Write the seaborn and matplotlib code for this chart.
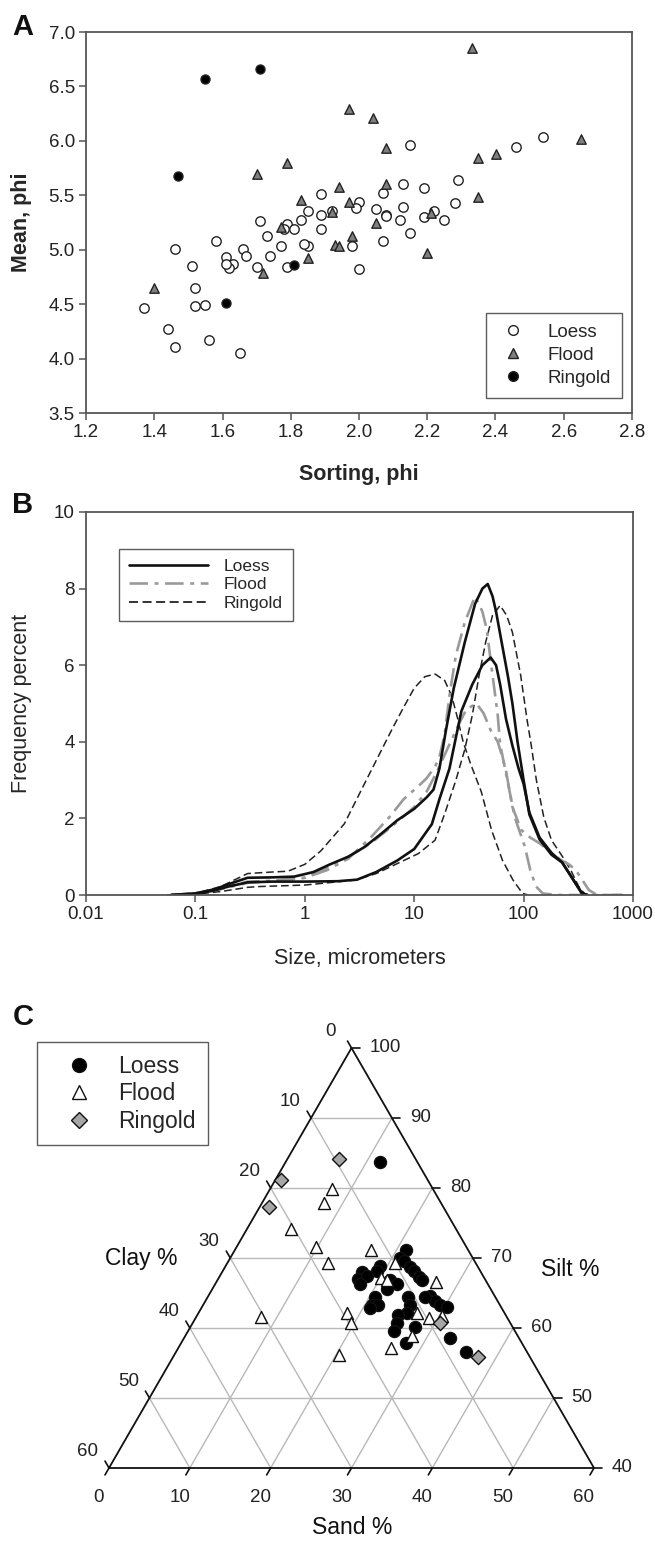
import numpy as np
import pandas as pd
import matplotlib
matplotlib.use("Agg")
import matplotlib.pyplot as plt
from matplotlib.lines import Line2D
import seaborn as sns

sns.set_style("ticks")
plt.rcParams["font.family"] = ["Liberation Sans", "DejaVu Sans"]

groups = ["Loess", "Flood", "Ringold"]

# ---- Panel A: sorting vs mean (phi)
loess_sorting = [2.15, 2.54, 2.46, 2.29, 2.13, 2.19, 1.89, 2.07, 2.28, 2.00, 1.99, 2.13, 2.05, 1.85,
                 1.92, 1.89, 2.08, 2.22, 2.19, 2.12, 2.25, 1.71, 1.83, 1.79, 1.78, 1.81, 1.89, 1.73,
                 2.15, 2.07, 1.58, 1.85, 1.84, 1.77, 1.98, 1.46, 1.66, 1.61, 1.67, 1.74, 1.63, 1.62,
                 1.70, 1.79, 2.00, 1.51, 1.52, 1.52, 1.55, 1.37, 1.44, 1.56, 1.46, 1.65, 2.08, 1.61]
loess_mean = [5.96, 6.04, 5.94, 5.64, 5.60, 5.57, 5.51, 5.52, 5.43, 5.44, 5.38, 5.39, 5.37, 5.36,
              5.36, 5.32, 5.32, 5.36, 5.30, 5.27, 5.27, 5.26, 5.27, 5.24, 5.19, 5.19, 5.19, 5.13,
              5.15, 5.08, 5.08, 5.03, 5.05, 5.03, 5.03, 5.01, 5.01, 4.93, 4.94, 4.94, 4.87, 4.83,
              4.84, 4.84, 4.82, 4.85, 4.65, 4.48, 4.49, 4.46, 4.27, 4.17, 4.11, 4.05, 5.31, 4.87]
flood_sorting = [2.33, 1.97, 2.04, 2.08, 2.35, 2.40, 2.65, 1.79, 1.70, 1.94, 2.08, 2.35, 1.83,
                 1.97, 1.92, 2.05, 1.77, 1.98, 1.93, 1.94, 2.20, 1.85, 1.72, 1.40, 2.21]
flood_mean = [6.85, 6.29, 6.21, 5.93, 5.84, 5.88, 6.02, 5.80, 5.70, 5.58, 5.60, 5.48, 5.46,
              5.44, 5.35, 5.25, 5.21, 5.13, 5.04, 5.03, 4.97, 4.92, 4.79, 4.65, 5.34]
ringold_sorting = [1.55, 1.71, 1.47, 1.81, 1.61]
ringold_mean = [6.57, 6.66, 5.68, 4.86, 4.51]

# ---- Panel B: grain size distributions (size in micrometers, frequency %)
loess1_size = [0.06, 0.1, 0.15, 0.2, 0.3, 0.5, 0.8, 1.2, 1.7, 2.5, 3.5, 5, 7, 10, 13, 15, 17, 19.5,
               23, 29, 36, 42, 47, 52, 56, 63, 72, 79, 88, 100, 113, 140, 180, 225, 270, 340, 380]
loess1_freq = [0, 0.04, 0.15, 0.28, 0.45, 0.46, 0.48, 0.6, 0.8, 1.0, 1.25, 1.6, 1.95, 2.25, 2.55, 2.75,
               3.3, 4.3, 5.4, 6.6, 7.6, 8.0, 8.12, 7.8, 7.4, 6.6, 5.7, 5.0, 4.0, 3.0, 2.1, 1.45, 1.05,
               0.85, 0.5, 0.05, 0]
loess2_size = [0.06, 0.1, 0.15, 0.2, 0.3, 0.5, 1, 2, 3, 4.5, 7, 10, 14.5, 17, 21, 24, 27, 34, 42, 50,
               56, 61, 69, 79, 90, 100, 113, 140, 180, 225, 270, 340, 380]
loess2_freq = [0, 0.03, 0.12, 0.22, 0.33, 0.35, 0.35, 0.36, 0.4, 0.6, 0.9, 1.2, 1.85, 2.5, 3.3, 4.1,
               4.8, 5.5, 6.0, 6.2, 6.0, 5.5, 4.6, 3.9, 3.3, 2.9, 2.15, 1.5, 1.1, 0.85, 0.5, 0.05, 0]
flood1_size = [0.06, 0.1, 0.15, 0.2, 0.3, 0.5, 1, 1.6, 2.5, 4, 6, 8, 11, 13, 15.5, 17, 19, 21, 24, 29,
               36, 42, 46, 52, 58, 61, 71, 83, 103, 115, 130, 150, 200, 800]
flood1_freq = [0, 0.05, 0.13, 0.22, 0.35, 0.37, 0.45, 0.65, 0.95, 1.5, 2.05, 2.5, 2.85, 3.05, 3.35,
               3.6, 4.2, 5.2, 6.25, 7.12, 7.8, 7.4, 6.94, 5.74, 4.7, 3.94, 3.0, 2.03, 1.25, 0.65,
               0.22, 0.04, 0, 0]
flood2_size = [0.06, 0.1, 0.15, 0.2, 0.3, 0.5, 1, 1.6, 2.5, 4, 6, 8, 10, 13, 16, 20, 25, 30, 37, 43,
               50, 58, 64, 69, 79, 95, 115, 140, 180, 220, 260, 300, 395, 470, 800]
flood2_freq = [0, 0.04, 0.12, 0.2, 0.32, 0.36, 0.45, 0.72, 1.0, 1.35, 1.75, 2.05, 2.3, 2.7, 3.2, 3.8,
               4.4, 4.85, 5.0, 4.75, 4.3, 4.0, 3.6, 3.25, 2.3, 1.7, 1.5, 1.35, 1.1, 0.91, 0.8, 0.65,
               0.13, 0, 0]
ringold1_size = [0.055, 0.1, 0.17, 0.25, 0.3, 0.5, 0.7, 1.0, 1.4, 2.3, 3.8, 6.2, 8, 10, 12.5, 15.5,
                 19, 22, 25, 28, 33, 41, 51, 64, 80, 98, 110]
ringold1_freq = [0, 0.04, 0.22, 0.45, 0.56, 0.6, 0.62, 0.8, 1.15, 1.86, 3.1, 4.3, 4.9, 5.4, 5.7,
                 5.77, 5.6, 5.2, 4.6, 4.0, 3.4, 2.7, 1.69, 0.91, 0.39, 0.04, 0]
ringold2_size = [0.055, 0.1, 0.17, 0.3, 0.38, 1, 2.9, 4.5, 7, 10.9, 15.5, 19, 24, 29, 34, 39, 45, 52,
                 61, 70, 79, 94, 108, 117, 131, 153, 180, 227, 270, 319, 360, 400]
ringold2_freq = [0, 0.02, 0.09, 0.2, 0.22, 0.26, 0.39, 0.56, 0.82, 1.08, 1.43, 2.12, 2.99, 3.8, 4.7,
                 5.7, 6.6, 7.3, 7.56, 7.3, 6.86, 5.74, 4.54, 3.94, 2.99, 2.03, 1.43, 1.0, 0.65, 0.22,
                 0.04, 0]

# ---- Panel C: texture (sand %, clay %; silt is the remainder)
loess_sand = [11.7, 21.2, 21.0, 21.7, 22.9, 23.7, 24.7, 25.3, 19.1, 19.1, 17.3, 17.3, 18.2, 17.9,
              21.3, 22.5, 21.6, 20.7, 20.9, 21.6, 24.8, 25.6, 25.8, 27.5, 28.4, 29.3, 30.3, 24.8,
              25.3, 25.5, 27.8, 27.8, 32.9, 35.9, 20.8, 26.9]
loess_clay = [4.6, 7.7, 9.0, 8.8, 8.4, 8.2, 8.0, 7.9, 12.1, 12.8, 14.7, 15.7, 14.4, 15.8,
              11.8, 11.2, 12.9, 14.9, 15.8, 15.1, 10.8, 11.1, 12.0, 8.0, 7.8, 7.4, 6.7, 13.3,
              14.0, 15.0, 14.3, 12.1, 8.5, 7.5, 16.3, 8.7]
flood_sand = [7.7, 7.7, 5.4, 9.9, 16.9, 12.5, 8.0, 18.4, 19.6, 20.4, 26.3, 28.0, 27.0, 28.9, 30.3,
              27.2, 20.0, 20.9, 20.7]
flood_clay = [12.5, 14.4, 20.4, 18.6, 12.0, 18.2, 30.4, 19.4, 19.7, 23.5, 16.6, 13.1, 10.8, 9.7, 8.0,
              6.3, 12.8, 12.2, 10.0]
ringold_sand = [6.3, 0.7, 1.2, 30.6, 37.7]
ringold_clay = [9.5, 18.2, 21.5, 8.7, 6.4]

tick_fs = 13.5
label_fs = 15.5
W, H = 655, 1541
fig = plt.figure(figsize=(W / 100, H / 100), dpi=100)


def px_axes(left, top, right, bottom):
    return fig.add_axes([left / W, 1 - bottom / H, (right - left) / W, (bottom - top) / H])


def style_box(ax):
    for sp in ax.spines.values():
        sp.set_visible(True)
        sp.set_color("#555555")
        sp.set_linewidth(1.3)
    ax.tick_params(direction="out", length=5, width=1.1, color="#555555",
                   labelsize=tick_fs, labelcolor="#222222", pad=3)


# ================= Panel A =================
ax_a = px_axes(86, 32, 632, 413)
df_a = pd.DataFrame({
    "sorting": loess_sorting + flood_sorting + ringold_sorting,
    "mean": loess_mean + flood_mean + ringold_mean,
    "group": ["Loess"] * len(loess_sorting) + ["Flood"] * len(flood_sorting)
             + ["Ringold"] * len(ringold_sorting),
})
pal_a = {"Loess": "white", "Flood": "#7f7f7f", "Ringold": "black"}
mk_a = {"Loess": "o", "Flood": "^", "Ringold": "o"}
size_a = {"Loess": 46, "Flood": 46, "Ringold": 42}
for g in groups:
    sub = df_a[df_a["group"] == g]
    sns.scatterplot(data=sub, x="sorting", y="mean", color=pal_a[g], marker=mk_a[g],
                    s=size_a[g], edgecolor="#222222", linewidth=1.0, ax=ax_a, legend=False,
                    zorder=3)
ax_a.set_xlim(1.2, 2.8)
ax_a.set_ylim(3.5, 7.0)
ax_a.set_xticks(np.arange(1.2, 2.81, 0.2))
ax_a.set_yticks(np.arange(3.5, 7.01, 0.5))
ax_a.xaxis.set_major_formatter(matplotlib.ticker.FormatStrFormatter("%.1f"))
ax_a.yaxis.set_major_formatter(matplotlib.ticker.FormatStrFormatter("%.1f"))
style_box(ax_a)
ax_a.set_xlabel("Sorting, phi", fontsize=label_fs, fontweight="bold")
ax_a.set_ylabel("Mean, phi", fontsize=label_fs, fontweight="bold")
ax_a.xaxis.set_label_coords(0.5, -0.134)
ax_a.yaxis.set_label_coords(-0.099, 0.5)
h_a = [Line2D([], [], ls="", marker=mk_a[g], markersize=7, markerfacecolor=pal_a[g],
              markeredgecolor="#222222", markeredgewidth=1.0) for g in groups]
leg_a = ax_a.legend(h_a, groups, loc="lower right", bbox_to_anchor=(0.982, 0.04),
                    fontsize=tick_fs, frameon=True, fancybox=False, edgecolor="#333333",
                    handletextpad=1.0, labelspacing=0.3, borderpad=0.6, handlelength=1.7,
                    borderaxespad=0)
leg_a.get_frame().set_linewidth(1.0)

# ================= Panel B =================
ax_b = px_axes(86, 512, 633, 895)
curves = [
    ("Loess", "L1", loess1_size, loess1_freq),
    ("Loess", "L2", loess2_size, loess2_freq),
    ("Flood", "F1", flood1_size, flood1_freq),
    ("Flood", "F2", flood2_size, flood2_freq),
    ("Ringold", "R1", ringold1_size, ringold1_freq),
    ("Ringold", "R2", ringold2_size, ringold2_freq),
]
rows = []
for g, sid, sz, fq in curves:
    for a, b in zip(sz, fq):
        rows.append((g, sid, a, b))
df_b = pd.DataFrame(rows, columns=["group", "sample", "size", "freq"])

line_col = {"Loess": "#111111", "Flood": "#9a9a9a", "Ringold": "#222222"}
line_dash = {"Loess": "", "Flood": (7, 2.5, 1.5, 2.5), "Ringold": (5, 2.5)}
line_w = {"Loess": 1.9, "Flood": 1.9, "Ringold": 1.1}
for g in ["Ringold", "Flood", "Loess"]:
    sub = df_b[df_b["group"] == g]
    sns.lineplot(data=sub, x="size", y="freq", units="sample", estimator=None, sort=False,
                 color=line_col[g], linewidth=line_w[g], ax=ax_b, legend=False)
    for ln in ax_b.get_lines()[-sub["sample"].nunique():]:
        if line_dash[g]:
            ln.set_dashes(line_dash[g])
ax_b.set_xscale("log")
ax_b.set_xlim(0.01, 1000)
ax_b.set_ylim(0, 10)
ax_b.set_xticks([0.01, 0.1, 1, 10, 100, 1000])
ax_b.set_xticklabels(["0.01", "0.1", "1", "10", "100", "1000"])
ax_b.xaxis.set_minor_locator(matplotlib.ticker.NullLocator())
ax_b.set_yticks([0, 2, 4, 6, 8, 10])
style_box(ax_b)
ax_b.set_xlabel("Size, micrometers", fontsize=label_fs)
ax_b.set_ylabel("Frequency percent", fontsize=label_fs)
ax_b.xaxis.set_label_coords(0.5, -0.138)
ax_b.yaxis.set_label_coords(-0.099, 0.5)
h_b = []
for g in groups:
    ln = Line2D([], [], color=line_col[g], linewidth=line_w[g] if g != "Ringold" else 1.3)
    if line_dash[g]:
        ln.set_dashes(line_dash[g])
    h_b.append(ln)
leg_b = ax_b.legend(h_b, groups, loc="upper left",
                    bbox_to_anchor=((119 - 86) / 547, (895 - 549) / 383),
                    fontsize=12.5, frameon=True, fancybox=False, edgecolor="#333333",
                    handlelength=4.6, handletextpad=0.9, labelspacing=0.2, borderpad=0.55,
                    borderaxespad=0)
leg_b.get_frame().set_linewidth(1.0)

# ================= Panel C =================
ax_c = px_axes(0, 990, 655, 1541)
side = 485.0
x0, ybase = 109.0, 1468.0
ax_c.set_xlim((0 - x0) / side, (W - x0) / side)
ax_c.set_ylim((ybase - H) / side, (ybase - 990) / side)
ax_c.axis("off")

r3 = np.sqrt(3) / 2


def tern_xy(sand, clay):
    sand = np.asarray(sand, float)
    clay = np.asarray(clay, float)
    silt = 100 - sand - clay
    return (sand + 0.5 * (silt - 40)) / 60, (silt - 40) / 60 * r3


grid_kw = dict(color="#b8b8b8", linewidth=1.0, zorder=1)
for v in [10, 20, 30, 40, 50]:
    s_silt = 40 + v
    gx, gy = tern_xy([0, 100 - s_silt], [100 - s_silt, 0])
    ax_c.plot(gx, gy, **grid_kw)
    gx, gy = tern_xy([v, v], [60 - v, 0])
    ax_c.plot(gx, gy, **grid_kw)
    gx, gy = tern_xy([0, 60 - v], [v, v])
    ax_c.plot(gx, gy, **grid_kw)
ox, oy = tern_xy([0, 60, 0, 0], [60, 0, 0, 60])
ax_c.plot(ox, oy, color="#111111", linewidth=1.3, zorder=2)

tl = 8 / side
tk = dict(color="#111111", linewidth=1.2, zorder=2)
for v in range(0, 61, 10):
    # sand along the base
    bx, by = tern_xy([v], [60 - v])
    ax_c.plot([bx[0], bx[0] - 0.5 * tl], [by[0], by[0] - r3 * tl], **tk)
    ax_c.text(bx[0] - 10 / side, by[0] - 29 / side, str(v), ha="center", va="center",
              fontsize=tick_fs, color="#222222")
    # clay along the left edge
    lx, ly = tern_xy([0], [v])
    ax_c.plot([lx[0], lx[0] - 0.5 * tl], [ly[0], ly[0] + r3 * tl], **tk)
    ax_c.text(lx[0] - 21 / side, ly[0] + 16 / side, str(v), ha="center", va="center",
              fontsize=tick_fs, color="#222222")
    # silt along the right edge
    s_v = 40 + v
    rx, ry = tern_xy([100 - s_v], [0])
    ax_c.plot([rx[0], rx[0] + tl], [ry[0], ry[0]], **tk)
    ax_c.text(rx[0] + 18 / side, ry[0], str(s_v), ha="left", va="center",
              fontsize=tick_fs, color="#222222")

ax_c.text((141 - x0) / side, (ybase - 1258) / side, "Clay %", ha="center", va="center",
          fontsize=16.5, color="#111111")
ax_c.text((570 - x0) / side, (ybase - 1270) / side, "Silt %", ha="center", va="center",
          fontsize=16.5, color="#111111")
ax_c.text((352 - x0) / side, (ybase - 1528) / side, "Sand %", ha="center", va="center",
          fontsize=16.5, color="#111111")

tx, ty = [], []
for sd, cl in [(loess_sand, loess_clay), (flood_sand, flood_clay), (ringold_sand, ringold_clay)]:
    a, b = tern_xy(sd, cl)
    tx.append(a)
    ty.append(b)
df_c = pd.DataFrame({
    "x": np.concatenate(tx),
    "y": np.concatenate(ty),
    "group": ["Loess"] * len(loess_sand) + ["Flood"] * len(flood_sand)
             + ["Ringold"] * len(ringold_sand),
})
pal_c = {"Loess": "black", "Flood": "white", "Ringold": "#a6a6a6"}
mk_c = {"Loess": "o", "Flood": "^", "Ringold": "D"}
size_c = {"Loess": 75, "Flood": 75, "Ringold": 52}
for g in ["Loess", "Flood", "Ringold"]:
    sub = df_c[df_c["group"] == g]
    sns.scatterplot(data=sub, x="x", y="y", color=pal_c[g], marker=mk_c[g], s=size_c[g],
                    edgecolor="#111111", linewidth=1.0, ax=ax_c, legend=False, zorder=3)
ax_c.set_xlabel("")
ax_c.set_ylabel("")

h_c = [Line2D([], [], ls="", marker=mk_c[g], markersize=10 if g != "Ringold" else 8.5,
              markerfacecolor=pal_c[g], markeredgecolor="#111111", markeredgewidth=1.0)
       for g in groups]
leg_c = fig.legend(h_c, groups, loc="upper left", bbox_to_anchor=(37 / W, 1 - 1042 / H),
                   fontsize=16.5, frameon=True, fancybox=False, edgecolor="#333333",
                   handletextpad=0.4, labelspacing=0.2, borderpad=0.55, handlelength=2.6,
                   borderaxespad=0)
leg_c.get_frame().set_linewidth(1.0)

# panel letters
for lab, (px, py) in {"A": (23, 27), "B": (23, 505), "C": (23, 1017)}.items():
    fig.text(px / W, 1 - py / H, lab, ha="center", va="center", fontsize=21,
             fontweight="bold", color="#111111")

fig.savefig("out.png", dpi=100)
